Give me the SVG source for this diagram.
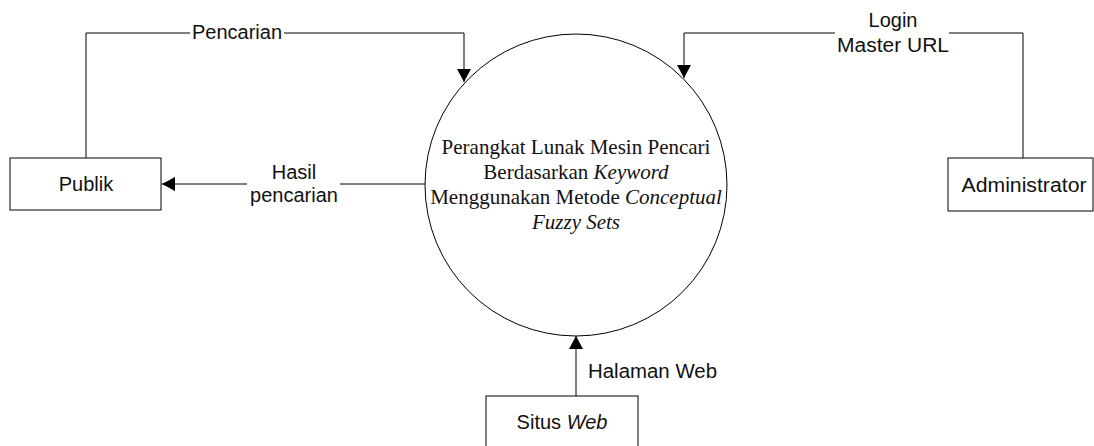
<svg xmlns="http://www.w3.org/2000/svg" width="1094" height="446" viewBox="0 0 1094 446">
  <defs>
    <marker id="arrow" viewBox="0 0 13 14" refX="13" refY="7" markerWidth="13" markerHeight="14" markerUnits="userSpaceOnUse" orient="auto">
      <path d="M0,0 L13,7 L0,14 Z" fill="#000"/>
    </marker>
  </defs>
  <style>
    .box { fill: #fff; stroke: #000; stroke-width: 1; }
    .edge { fill: none; stroke: #000; stroke-width: 1; marker-end: url(#arrow); }
    .lbl { font-family: "Liberation Sans", Arial, sans-serif; font-size: 20px; fill: #111; text-anchor: middle; }
    .proc { font-family: "Liberation Serif", "Times New Roman", serif; font-size: 21px; fill: #111; text-anchor: middle; }
    .bg { fill: #fff; }
  </style>
  <rect width="1094" height="446" fill="#fff"/>

  <g id="connectors">
    <path class="edge" d="M86 158 V33 H464 V82"/>
    <path class="edge" d="M1023 158 V33 H684 V78"/>
    <path class="edge" d="M425 184 H162"/>
    <path class="edge" d="M576 396 V336"/>
    <rect class="bg" x="190" y="24" width="94" height="20"/>
    <text class="lbl" x="237" y="39">Pencarian</text>
    <rect class="bg" x="835" y="10" width="114" height="48"/>
    <text class="lbl" x="893" y="27">Login</text>
    <text class="lbl" x="893" y="52" textLength="112" lengthAdjust="spacingAndGlyphs">Master URL</text>
    <rect class="bg" x="247" y="162" width="93" height="46"/>
    <text class="lbl" x="294" y="179">Hasil</text>
    <text class="lbl" x="294" y="202">pencarian</text>
    <text class="lbl" x="588" y="378" style="text-anchor:start" textLength="129" lengthAdjust="spacingAndGlyphs">Halaman Web</text>
  </g>

  <g id="process">
    <circle cx="576" cy="185" r="151" fill="#fff" stroke="#000" stroke-width="1"/>
    <text class="proc" x="576" y="154">Perangkat Lunak Mesin Pencari</text>
    <text class="proc" x="576" y="179">Berdasarkan <tspan font-style="italic">Keyword</tspan></text>
    <text class="proc" x="576" y="204">Menggunakan Metode <tspan font-style="italic">Conceptual</tspan></text>
    <text class="proc" x="576" y="229" font-style="italic">Fuzzy Sets</text>
  </g>

  <g id="publik">
    <rect class="box" x="10" y="158" width="151" height="52"/>
    <text class="lbl" x="86" y="191">Publik</text>
  </g>

  <g id="administrator">
    <rect class="box" x="948" y="158" width="145" height="53"/>
    <text class="lbl" x="1024" y="192" textLength="125" lengthAdjust="spacingAndGlyphs">Administrator</text>
  </g>

  <g id="situs-web">
    <rect class="box" x="486" y="396" width="152" height="53"/>
    <text class="lbl" x="562" y="429">Situs <tspan font-style="italic">Web</tspan></text>
  </g>
</svg>
